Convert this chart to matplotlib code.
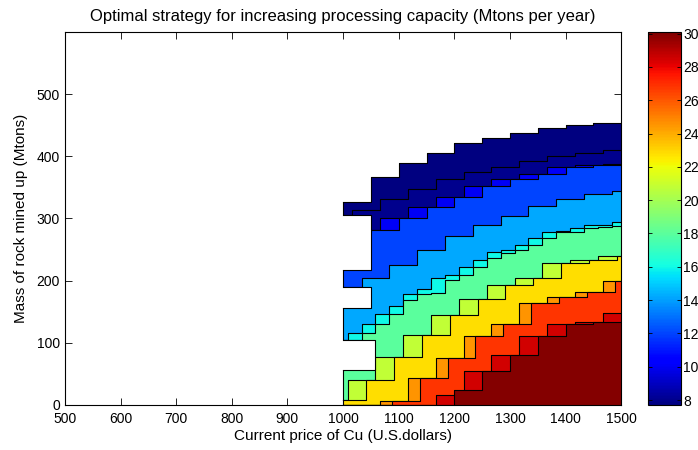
import numpy as np
import matplotlib
matplotlib.use("Agg")
import matplotlib.pyplot as plt
from matplotlib import colors, cm

plt.rcParams['font.family'] = ['Liberation Sans', 'DejaVu Sans']

# price range covered by the strategy map
p_lo, p_hi = 1000, 1500

# colour value of each band (bottom -> top), read against the colour bar
band_levels = [30, 28.5, 26.8, 24.5, 22.8, 20.8, 18, 16, 14.2, 12, 10, 8, 7.7]

# top of each band in Mtons, as staircases over price
# (first step offset from 1000, step width, heights of each stair)
dark_red_off, dark_red_w, dark_red_top = 0, 50, [0, 0, 0, 0, 24, 54, 80, 111, 131, 134]
red_off, red_w, red_top = 16.7, 50, [0, 0, 0, 0, 16, 54, 80, 111, 131, 134, 148]
redor_off, redor_w, redor_top = 38, 50, [0, 0, 6, 43, 75, 111, 131, 164, 174, 182, 200]
orange_off, orange_w, orange_top = 16.7, 50, [0, 0, 6, 43, 75, 111, 131, 164, 174, 182, 200]
yellow_off, yellow_w, yellow_top = 41.7, 50, [8, 40, 78, 113, 144, 171, 193, 204, 228, 234, 240]
ygreen_off, ygreen_w, ygreen_top = 8.3, 50, [8, 40, 78, 113, 144, 171, 193, 204, 228, 234, 240]
aqua_off, aqua_w, aqua_top = 8.3, 25, [104, 104, 115, 131, 147, 169, 179, 180, 201, 209, 222,
                                      236, 244, 250, 257, 268, 279, 279, 284, 286, 288]
cyan_off, cyan_w, cyan_top = 8.3, 25, [104, 115, 131, 147, 160, 179, 187, 204, 209, 222, 233,
                                      246, 250, 257, 268, 279, 280, 284, 289, 289, 295]
sky_off, sky_w, sky_top = 33.3, 50, [190, 204, 225, 249, 272, 289, 304, 320, 331, 340, 344]
mblue_off, mblue_w, mblue_top = 0, 50, [279, 281, 300, 319, 335, 352, 363, 372, 382, 386]
blue_off, blue_w, blue_top = 16.7, 50, [281, 281, 300, 319, 335, 352, 363, 372, 382, 386, 388]
navy2_off, navy2_w, navy2_top = 16.7, 50, [305, 313, 331, 347, 363, 375, 383, 393, 400, 406, 410]
navy1_off, navy1_w, navy1_top = 0, 50, [327, 367, 390, 405, 421, 429, 437, 445, 450, 454]

bands = [
    (dark_red_off, dark_red_w, dark_red_top),
    (red_off, red_w, red_top),
    (redor_off, redor_w, redor_top),
    (orange_off, orange_w, orange_top),
    (yellow_off, yellow_w, yellow_top),
    (ygreen_off, ygreen_w, ygreen_top),
    (aqua_off, aqua_w, aqua_top),
    (cyan_off, cyan_w, cyan_top),
    (sky_off, sky_w, sky_top),
    (mblue_off, mblue_w, mblue_top),
    (blue_off, blue_w, blue_top),
    (navy2_off, navy2_w, navy2_top),
    (navy1_off, navy1_w, navy1_top),
]

# empty gaps on the left edge of the map
gap_right = [1050, 1050, 1057]
gap_lo = [217, 156, 56]
gap_hi = [305, 190, 104]


def stair_edges(off, width):
    inner = np.arange(p_lo + off, p_hi, width)
    inner = inner[inner > p_lo + 1e-6]
    return np.concatenate([[p_lo], inner, [p_hi]])


cmap = plt.get_cmap('jet')
norm = colors.Normalize(vmin=7.7, vmax=30.1)

fig = plt.figure(figsize=(6.98, 4.5), dpi=100)
ax = fig.add_axes([0.093, 0.1, 0.797, 0.829])
cax = fig.add_axes([0.928, 0.1, 0.047, 0.829])

# paint from the top band down, each fill reaching to the bottom
z = 1
for k in reversed(range(len(bands))):
    off, w, h = bands[k]
    x = stair_edges(off, w)
    y = np.append(h, h[-1])
    ax.fill_between(x, 0, y, step='post', color=cmap(norm(band_levels[k])), lw=0, zorder=z)
    ax.step(x, y, where='post', color='k', lw=0.8, zorder=z + 0.5)
    z += 1

ax.vlines(p_lo, 0, navy1_top[0], color='k', lw=0.8, zorder=z)

for x1, lo, hi in zip(gap_right, gap_lo, gap_hi):
    ax.fill_between([990, x1], lo, hi, color='white', lw=0, zorder=z + 1)
    ax.plot([p_lo, x1, x1, p_lo], [hi, hi, lo, lo], color='k', lw=0.8, zorder=z + 2)

ax.set_xlim(500, 1500)
ax.set_ylim(0, 600)
ax.set_xticks(range(500, 1501, 100))
ax.set_yticks(range(0, 501, 100))
ax.tick_params(direction='in', top=True, right=True, length=5, labelsize=10, width=0.6)
ax.tick_params(axis='x', pad=5)
for s in ax.spines.values():
    s.set_linewidth(0.8)
    s.set_zorder(z + 5)

ax.set_title('Optimal strategy for increasing processing capacity (Mtons per year)',
             fontsize=12, pad=8)
ax.set_xlabel('Current price of Cu (U.S.dollars)', fontsize=11, labelpad=2)
ax.set_ylabel('Mass of rock mined up (Mtons)', fontsize=11, labelpad=6)

cb = fig.colorbar(cm.ScalarMappable(norm=norm, cmap=cmap), cax=cax, ticks=range(8, 31, 2))
cb.ax.tick_params(direction='in', left=True, right=True, length=3, labelsize=10, pad=2, width=0.6)
cb.outline.set_linewidth(0.8)

fig.savefig('out.png', dpi=100)
